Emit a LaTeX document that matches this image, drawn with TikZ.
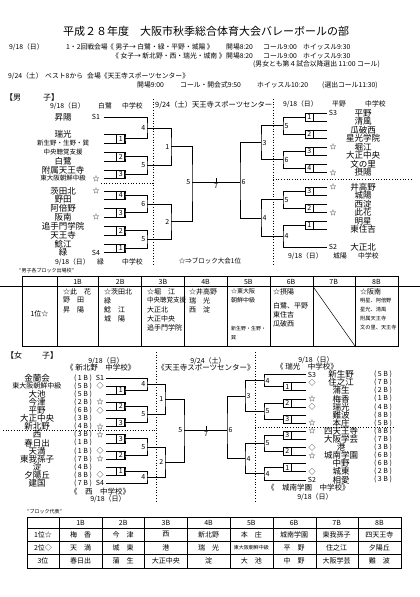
\documentclass[tikz,border=0pt]{standalone}
\usepackage{fontspec}
\setmainfont{Noto Sans CJK JP}
\usetikzlibrary{calc}
\newcommand\fsm{\fontsize{6.5}{6.5}\selectfont}
\newcommand\fxs{\fontsize{5}{5}\selectfont}

\begin{document}
\begin{tikzpicture}[x=1pt, y=-1pt,
    every node/.style={inner sep=0pt},
    maintitle/.style={font=\fontsize{11}{11}\selectfont},
    info/.style={font=\fontsize{6.8}{6.8}\selectfont, anchor=west},
    team/.style={font=\fontsize{8.5}{8.5}\selectfont},
    seed/.style={font=\fontsize{7}{7}\selectfont},
    blk/.style={font=\fontsize{7}{7}\selectfont},
    firstbox/.style={draw, line width=0.6pt, minimum width=8pt, font=\fontsize{7}{7}\selectfont},
    rnum/.style={font=\fontsize{7}{7}\selectfont, inner sep=1.5pt},
    brk/.style={line width=0.6pt},
    divider/.style={dotted, line width=0.7pt},
    cell/.style={font=\fontsize{7}{7}\selectfont, anchor=west},
    ccell/.style={font=\fontsize{7}{7}\selectfont},
    tblline/.style={line width=0.6pt},
  ]
  \useasboundingbox (0,0) rectangle (420,597);
  \fill[white] (0,0) rectangle (420,597);

  % heading
  \node[maintitle] (ttl) at (206,31) {平成２８年度　大阪市秋季総合体育大会バレーボールの部};
  \node[info] (h1a) at (9,47) {9/18（日）};
  \node[info] (h1b) at (66,47) {1・2回戦会場};
  \node[info] (h1c) at (107,47) {《 男子→ 白鷺・緑・平野・城陽 》};
  \node[info] (h1d) at (226,47) {開場8:20};
  \node[info] (h1e) at (263,47) {コール9:00};
  \node[info] (h1f) at (303,47) {ホイッスル9:30};
  \node[info] (h2c) at (112,56) {《 女子→ 新北野・西・瑞光・城南 》};
  \node[info] (h2d) at (226,56) {開場8:20};
  \node[info] (h2e) at (263,56) {コール9:00};
  \node[info] (h2f) at (303,56) {ホイッスル9:30};
  \node[info, anchor=east] (h3) at (380,64.5) {(男女とも第４試合以降選出 11:00 コール)};
  \node[info] (h4a) at (8,76) {9/24（土）};
  \node[info] (h4b) at (45,76) {ベスト8から};
  \node[info] (h4c) at (87,76) {会場《天王寺スポーツセンター》};
  \node[info] (h5a) at (137,85) {開場9:00};
  \node[info] (h5b) at (180,85) {コール・開会式9:50};
  \node[info] (h5c) at (257,85) {ホイッスル10:20};
  \node[info] (h5d) at (322,85) {(選出コール11:30)};

  % ---- men ----
  \node[font=\fontsize{8}{8}\selectfont, anchor=west] (mhd) at (5,97.5) {【男\hspace{22pt}子】};
  \node[info] (mtl1) at (50,106) {9/18（日）};
  \node[info] (mtl2) at (98,106) {白鷺};
  \node[info] (mtl3) at (122,106) {中学校};
  \node[info, font=\fontsize{7.3}{7.3}\selectfont] (mtc) at (155,105) {9/24（土）天王寺スポーツセンター};
  \node[info] (mtr1) at (283,104) {9/18（日）};
  \node[info] (mtr2) at (332,104) {平野};
  \node[info] (mtr3) at (365,104) {中学校};

  % left half teams
  \foreach \t/\y/\id in {昇陽/117/a, 瑞光/134.5/b, \fsm 新生野・生野・巽/143/c,
      \fsm 中央聴覚支援/152.5/d, 白鷺/161/e, 附属天王寺/170/f,
      \fsm 東大阪朝鮮中級/178.5/g, 茨田北/191/h, 野田/199.5/i, 阿倍野/208.5/j,
      阪南/217/k, 追手門学院/226.5/l, 天王寺/235/m, 鯰江/244/n, 緑/252.5/o}{
    \node[team] (ml\id) at (63,\y) {\t};
    \coordinate (mle\id) at (104,\y);
  }
  \foreach \s/\y/\id in {S1/117/a, ☆/178.5/g, ☆/191/h, ☆/217/k, S4/252.5/o}
    \node[seed] (mls\id) at (96,\y) {\s};

  % right half teams
  \foreach \t/\y/\id in {平野/113/a, 清風/121.5/b, 瓜破西/130/c, 星光学院/138.5/d,
      堀江/147/e, 大正中央/155.5/f, 文の里/164/g, 摂陽/172.5/h, 井高野/187/i,
      城陽/195.5/j, 西淀/204/k, 此花/212.5/l, 明星/221/m, 東住吉/229.5/n, 大正北/247/o}{
    \node[team] (mr\id) at (363,\y) {\t};
    \coordinate (mre\id) at (327,\y);
  }
  \foreach \s/\y/\id in {S3/113/a, ☆/147/e, ☆/172.5/h, ☆/187/i, ☆/212.5/l, S2/247/o}
    \node[seed] (mrs\id) at (333,\y) {\s};

  % first round
  \foreach \p/\q/\n/\k/\y in {b/c/1/1/138.75, d/e/2/2/156.75, f/g/3/3/174.25,
      h/i/4/4/195.25, j/k/3/5/212.75, l/m/2/6/230.75, n/o/1/7/248.25}{
    \coordinate (ma\k) at (125,\y);
    \draw[brk] (mle\p) -| (ma\k) |- (mle\q);
    \node[firstbox, minimum height=8.5pt, anchor=east] (mab\k) at (ma\k) {\n};
  }
  \foreach \p/\q/\n/\k/\y in {a/b/1/1/117.25, c/d/2/2/134.25, e/f/3/3/151.25,
      g/h/4/4/168.25, i/j/3/5/191.25, k/l/2/6/208.25, m/n/1/7/225.25}{
    \coordinate (mp\k) at (305,\y);
    \draw[brk] (mre\p) -| (mp\k) |- (mre\q);
    \node[firstbox, minimum height=8.5pt, anchor=west] (mpb\k) at (mp\k) {\n};
  }

  % second and third rounds
  \coordinate (mb1) at (147,127.9);  \coordinate (mb2) at (147,165.5);
  \coordinate (mb3) at (147,204);    \coordinate (mb4) at (147,239.5);
  \draw[brk] (mlea) -| (mb1) |- (ma1);
  \draw[brk] (ma2) -| (mb2) |- (ma3);
  \draw[brk] (ma4) -| (mb3) |- (ma5);
  \draw[brk] (ma6) -| (mb4) |- (ma7);
  \foreach \k/\n in {1/4, 2/5, 3/6, 4/5}
    \node[rnum, anchor=east] (mbn\k) at (mb\k) {\n};
  \coordinate (mc1) at (171,146.7);  \coordinate (mc2) at (171,221.75);
  \draw[brk] (mb1) -| (mc1) |- (mb2);
  \draw[brk] (mb3) -| (mc2) |- (mb4);
  \node[rnum, anchor=east] (mcn1) at (mc1) {1};
  \node[rnum, anchor=east] (mcn2) at (mc2) {2};

  \coordinate (mq1) at (283,125.75); \coordinate (mq2) at (283,159.75);
  \coordinate (mq3) at (283,199.75); \coordinate (mq4) at (283,236.1);
  \draw[brk] (mp1) -| (mq1) |- (mp2);
  \draw[brk] (mp3) -| (mq2) |- (mp4);
  \draw[brk] (mp5) -| (mq3) |- (mp6);
  \draw[brk] (mp7) -| (mq4) |- (mreo);
  \foreach \k/\n in {1/5, 2/6, 3/5, 4/4}
    \node[rnum, anchor=west] (mqn\k) at (mq\k) {\n};
  \coordinate (mt1) at (261,142.75); \coordinate (mt2) at (261,217.9);
  \draw[brk] (mq1) -| (mt1) |- (mq2);
  \draw[brk] (mq3) -| (mt2) |- (mq4);
  \node[rnum, anchor=west] (mtn1) at (mt1) {3};
  \node[rnum, anchor=west] (mtn2) at (mt2) {4};

  % semifinals and final
  \coordinate (mfl) at (192,182); \coordinate (mfr) at (240,182);
  \coordinate (mfm) at (216,182);
  \draw[brk] (mc1) -| (mfl) |- (mc2);
  \draw[brk] (mt1) -| (mfr) |- (mt2);
  \draw[brk] (mfl) -- (mfr);
  \draw[brk] (mfm) -- ++(0,-4);
  \node[rnum, anchor=east] (mfln) at (mfl) {5};
  \node[rnum, anchor=west] (mfrn) at (mfr) {6};
  \node[rnum, below] (mfin) at (mfm) {7};

  \draw[divider] (153,99) -- (153,266);
  \draw[divider] (273,99) -- (273,266);
  \draw[divider] (101,183.5) -- (153,183.5);
  \draw[divider] (273,179.5) -- (413,179.5);

  \node[info] (mbl1) at (55,262) {9/18（日）};
  \node[info] (mbl2) at (97,262) {緑};
  \node[info] (mbl3) at (122,262) {中学校};
  \node[info] (mbr1) at (288,256) {9/18（日）};
  \node[info] (mbr2) at (333,256) {城陽};
  \node[info] (mbr3) at (358,256) {中学校};
  \node[font=\fontsize{6.5}{6.5}\selectfont] (mnote) at (210,261) {☆⇒ブロック大会1位};

  % men's block table
  \node[font=\fxs, anchor=west] (mtt) at (19,271) {“男子各ブロック出場校”};
  \draw[tblline] (22,276) rectangle (398,346);
  \draw[line width=0.4pt] (0,286.5) -- (420,286.5);
  \foreach \x in {57,98,141,184,227,270,313,355}
    \draw[tblline] (\x,276) -- (\x,346);
  \foreach \i in {1,...,8}
    \node[ccell] (mh\i) at ({34.8+42.7*\i},281.5) {\i B};
  \draw[line width=0.5pt] (313,286.5) -- (355,346);
  \node[ccell] (m1st) at (39.5,314) {1位☆};
  \foreach \t [count=\i] in {☆此　花, 野　田, 昇　陽}
    \node[cell] (mc1r\i) at (63,{282.5+9*\i}) {\t};
  \foreach \t [count=\i] in {☆茨田北, 緑, 鯰　江, 城　陽}
    \node[cell] (mc2r\i) at (104,{282.5+9*\i}) {\t};
  \foreach \t [count=\i] in {☆堀　江, \fsm 中央聴覚支援, 大正北, 大正中央, 追手門学院}
    \node[cell] (mc3r\i) at (147,{282.5+9*\i}) {\t};
  \foreach \t [count=\i] in {☆井高野, 瑞　光, 西　淀}
    \node[cell] (mc4r\i) at (189,{282.5+9*\i}) {\t};
  \foreach \t/\y [count=\i] in {☆東大阪/291.5, 朝鮮中級/300.5}
    \node[cell, font=\fontsize{6}{6}\selectfont] (mc5r\i) at (231,\y) {\t};
  \foreach \t/\y [count=\i] in {新生野・生野・/329, 巽/338}
    \node[cell, font=\fxs] (mc5s\i) at (231,\y) {\t};
  \foreach \t/\y [count=\i] in {☆摂陽/291.5, 白鷺、平野/306, 東住吉/315, 瓜破西/324}
    \node[cell] (mc6r\i) at (273,\y) {\t};
  \node[cell] (mc8r1) at (360,291.5) {☆阪南};
  \foreach \t [count=\i from 2] in {明星、阿倍野, 星光、清風, 附属天王寺, 文の里、天王寺}
    \node[cell, font=\fontsize{5.2}{5.2}\selectfont] (mc8r\i) at (360,{282.5+9*\i}) {\t};

  % ---- women ----
  \node[font=\fontsize{8}{8}\selectfont, anchor=west] (whd) at (6,355) {【女\hspace{20pt}子】};
  \node[blk] (wtl1) at (106,361.5) {9/18（日）};
  \node[info, font=\fontsize{7.5}{7.5}\selectfont] (wtl2) at (66,368) {《 新北野　中学校》};
  \node[blk] (wtc1) at (208,361) {9/24（土）};
  \node[blk, font=\fontsize{7.5}{7.5}\selectfont] (wtc2) at (206,368) {《天王寺スポーツセンター》};
  \node[blk] (wtr1) at (316,360) {9/18（日）};
  \node[info, font=\fontsize{7.5}{7.5}\selectfont] (wtr2) at (276,366.5) {《 瑞光　中学校》};

  \foreach \t/\bk [count=\k from 0] in {金蘭会/1, {\fontsize{7}{7}\selectfont 東大阪朝鮮中級}/5, 大池/5,
      今津/2, 平野/6, 大正中央/3, 新北野/4, 西/3, 春日出/1, 天満/1, 東我孫子/7,
      淀/4, 夕陽丘/8, 建国/7}{
    \node[team] (wl\k) at (37,{378+8.1*\k}) {\t};
    \node[blk] (wlb\k) at (83,{378+8.1*\k}) {( \bk\ B )};
    \coordinate (wle\k) at (106,{378+8.1*\k});
  }
  \foreach \s/\k in {S1/0, ◇/1, ☆/3, ◇/4, ☆/6, ☆/7, ◇/9, ☆/10, ◇/12, S4/13}
    \node[seed] (wls\k) at (100,{378+8.1*\k}) {\s};

  \foreach \t/\bk [count=\k from 0] in {新生野/5, 住之江/7, 蒲生/2, 梅香/1, 瑞光/4,
      難波/8, 本庄/5, 四天王寺/8, 大阪学芸/7, 港/3, 城南学園/6, 中野/6, 城東/2, 相愛/3}{
    \node[team] (wr\k) at (341,{374.5+8.1*\k}) {\t};
    \node[blk] (wrb\k) at (383,{374.5+8.1*\k}) {( \bk\ B )};
    \coordinate (wre\k) at (306,{374.5+8.1*\k});
  }
  \foreach \s/\k in {S3/0, ◇/1, ☆/3, ◇/4, ☆/6, ☆/7, ◇/9, ☆/10, ◇/12, S2/13}
    \node[seed] (wrs\k) at (312,{374.5+8.1*\k}) {\s};

  % first round
  \foreach \p/\q/\n [count=\i] in {1/2/1, 3/4/2, 5/6/3, 7/8/3, 9/10/2, 11/12/1}{
    \coordinate (wa\i) at (125,{378+8.1*(\p+0.5)});
    \draw[brk] (wle\p) -| (wa\i) |- (wle\q);
    \node[firstbox, minimum height=8.1pt, anchor=east] (wab\i) at (wa\i) {\n};
    \coordinate (wd\i) at (283,{374.5+8.1*(\p+0.5)});
    \draw[brk] (wre\p) -| (wd\i) |- (wre\q);
    \node[firstbox, minimum height=8.1pt, anchor=west] (wdb\i) at (wd\i) {\n};
  }

  % second and third rounds
  \coordinate (wb1) at (147,384.1);  \coordinate (wb2) at (147,414.45);
  \coordinate (wb3) at (147,446.85); \coordinate (wb4) at (147,477.2);
  \draw[brk] (wle0) -| (wb1) |- (wa1);
  \draw[brk] (wa2) -| (wb2) |- (wa3);
  \draw[brk] (wa4) -| (wb3) |- (wa5);
  \draw[brk] (wa6) -| (wb4) |- (wle13);
  \foreach \k/\n in {1/4, 2/5, 3/5, 4/4}
    \node[rnum, anchor=east] (wbn\k) at (wb\k) {\n};
  \coordinate (wc1) at (165,399.3);  \coordinate (wc2) at (165,462);
  \draw[brk] (wb1) -| (wc1) |- (wb2);
  \draw[brk] (wb3) -| (wc2) |- (wb4);
  \node[rnum, anchor=east] (wcn1) at (wc1) {1};
  \node[rnum, anchor=east] (wcn2) at (wc2) {2};

  \coordinate (we1) at (264,380.6);  \coordinate (we2) at (264,410.95);
  \coordinate (we3) at (264,443.35); \coordinate (we4) at (264,473.7);
  \draw[brk] (wre0) -| (we1) |- (wd1);
  \draw[brk] (wd2) -| (we2) |- (wd3);
  \draw[brk] (wd4) -| (we3) |- (wd5);
  \draw[brk] (wd6) -| (we4) |- (wre13);
  \foreach \k/\n in {1/4, 2/5, 3/5, 4/4}
    \node[rnum, anchor=west] (wen\k) at (we\k) {\n};
  \coordinate (wg1) at (245,395.8);  \coordinate (wg2) at (245,458.5);
  \draw[brk] (we1) -| (wg1) |- (we2);
  \draw[brk] (we3) -| (wg2) |- (we4);
  \node[rnum, anchor=west] (wgn1) at (wg1) {3};
  \node[rnum, anchor=west] (wgn2) at (wg2) {4};

  % semifinals and final
  \coordinate (wfl) at (184,430); \coordinate (wfr) at (227,430);
  \coordinate (wfm) at (206,430);
  \draw[brk] (wc1) -| (wfl) |- (wc2);
  \draw[brk] (wg1) -| (wfr) |- (wg2);
  \draw[brk] (wfl) -- (wfr);
  \draw[brk] (wfm) -- ++(0,-4);
  \node[rnum, anchor=east] (wfln) at (wfl) {5};
  \node[rnum, anchor=west] (wfrn) at (wfr) {6};
  \node[rnum, below] (wfin) at (wfm) {7};

  \draw[divider] (156,352) -- (156,503);
  \draw[divider] (255,352) -- (255,503);
  \draw[divider] (3,430.7) -- (156,430.7);
  \draw[divider] (255,427.2) -- (395,427.2);

  \node[info, font=\fontsize{7.5}{7.5}\selectfont] (wbl1) at (70,492) {《　西　中学校》};
  \node[blk] (wbl2) at (108,499) {9/18（日）};
  \node[info, font=\fontsize{7.5}{7.5}\selectfont] (wbr1) at (267,488) {《　城南学園　中学校》};
  \node[blk] (wbr2) at (315,497) {9/18（日）};

  % women's block table
  \node[font=\fxs, anchor=west] (wtt) at (27,512) {“ブロック代表”};
  \draw[tblline] (27,517) rectangle (401,568);
  \foreach \y in {528,541,554}
    \draw[tblline] (27,\y) -- (401,\y);
  \foreach \x in {59,102,144,187,230,273,316,358}
    \draw[tblline] (\x,517) -- (\x,568);
  \foreach \i in {1,...,8}
    \node[ccell] (wh\i) at ({37.8+42.7*\i},522.5) {\i B};
  \foreach \t/\y [count=\i] in {1位☆/534.5, 2位◇/547.5, 3位/561}
    \node[ccell] (wlab\i) at (43,\y) {\t};
  \foreach \t [count=\i] in {梅　香, 今　津, 西, 新北野, 本　庄, 城南学園, 東我孫子, 四天王寺}
    \node[ccell] (wt1c\i) at ({37.8+42.7*\i},534.5) {\t};
  \foreach \t [count=\i] in {天　満, 城　東, 港, 瑞　光, \fxs 東大阪朝鮮中級, 平　野, 住之江, 夕陽丘}
    \node[ccell] (wt2c\i) at ({37.8+42.7*\i},547.5) {\t};
  \foreach \t [count=\i] in {春日出, 蒲　生, 大正中央, 淀, 大　池, 中　野, 大阪学芸, 難　波}
    \node[ccell] (wt3c\i) at ({37.8+42.7*\i},561) {\t};
\end{tikzpicture}
\end{document}
